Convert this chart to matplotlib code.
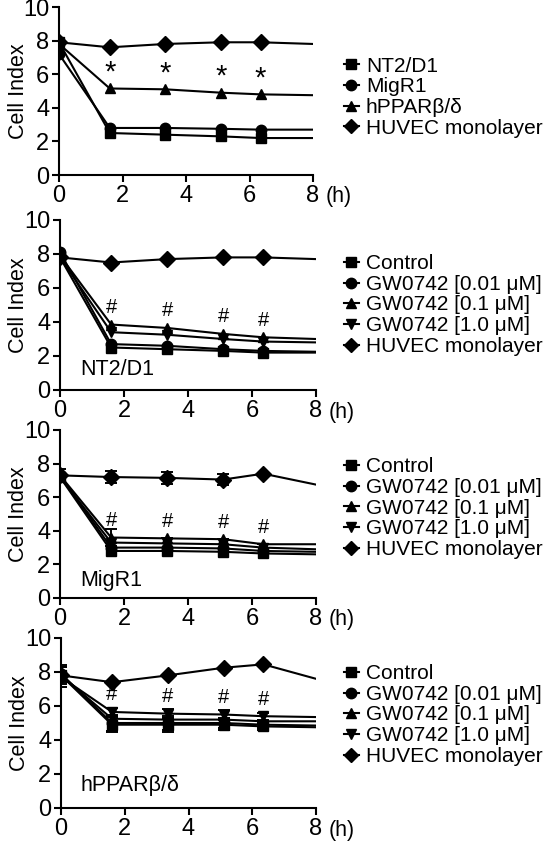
import numpy as np
import matplotlib
matplotlib.use("Agg")
import matplotlib.pyplot as plt
from matplotlib.lines import Line2D

plt.rcParams['font.family'] = ['Liberation Sans', 'DejaVu Sans']

# time points (h); last point is the line end without marker
t = [0, 1.6, 3.35, 5.1, 6.35, 8]

# panel 1
p1_nt2 = [7.9, 2.5, 2.4, 2.3, 2.2, 2.2]
p1_migr1 = [7.2, 2.8, 2.8, 2.75, 2.7, 2.7]
p1_hppar = [7.8, 5.15, 5.1, 4.9, 4.8, 4.75]
p1_huvec = [7.9, 7.6, 7.8, 7.9, 7.9, 7.8]
p1_labels = ["NT2/D1", "MigR1", "hPPAR\u03b2/\u03b4", "HUVEC monolayer"]

# panel 2 (NT2/D1)
p2_ctrl = [7.8, 2.5, 2.4, 2.3, 2.2, 2.2]
p2_gw001 = [8.1, 2.7, 2.6, 2.4, 2.3, 2.25]
p2_gw01 = [7.9, 3.85, 3.65, 3.3, 3.1, 3.0]
p2_gw1 = [7.8, 3.4, 3.25, 3.0, 2.85, 2.8]
p2_huvec = [7.8, 7.5, 7.7, 7.8, 7.8, 7.7]

# panel 3 (MigR1)
p3_ctrl = [7.2, 2.8, 2.8, 2.75, 2.65, 2.6]
p3_gw001 = [7.3, 3.0, 3.0, 2.95, 2.8, 2.75]
p3_gw01 = [7.3, 3.6, 3.55, 3.5, 3.2, 3.2]
p3_gw1 = [7.2, 3.3, 3.25, 3.2, 3.0, 2.9]
p3_huvec = [7.3, 7.2, 7.15, 7.05, 7.4, 6.75]
p3_huvec_err = [0.35, 0.35, 0.35, 0.35, 0, 0]

# panel 4 (hPPARb/d)
p4_ctrl = [7.8, 4.9, 4.9, 4.9, 4.8, 4.75]
p4_gw001 = [7.9, 5.0, 5.0, 5.0, 4.9, 4.85]
p4_gw01 = [7.8, 5.25, 5.2, 5.2, 5.1, 5.1]
p4_gw1 = [7.7, 5.65, 5.55, 5.5, 5.4, 5.35]
p4_huvec = [7.8, 7.4, 7.8, 8.25, 8.45, 7.6]
p4_err = [0.5, 0.45, 0.4, 0.3, 0.2, 0]

gw_labels = ["Control", "GW0742 [0.01 \u03bcM]", "GW0742 [0.1 \u03bcM]",
             "GW0742 [1.0 \u03bcM]", "HUVEC monolayer"]

mark_t = [1.6, 3.35, 5.1, 6.35]

W, H = 549, 841
fig = plt.figure(figsize=(W / 100, H / 100), dpi=100)

# axes boxes in pixels: left, right, top, bottom
boxes = [(59, 313, 7, 175), (60, 316, 220, 390), (60, 316, 430, 598), (61, 316, 638, 808)]
axes = []
for l, r, tp, b in boxes:
    ax = fig.add_axes([l / W, 1 - b / H, (r - l) / W, (b - tp) / H])
    axes.append(ax)

ms = 7.5
lw = 1.5
FS = 15.5
TFS = 17
LFS = 15

def series(ax, y, marker, err=None, size=ms):
    n = len(y) - 1
    ax.plot(t, y, color='black', lw=lw, zorder=2)
    ax.plot(t[:n], y[:n], ls='none', marker=marker, color='black', ms=size, zorder=3)
    if err is not None:
        ax.errorbar(t[:n], y[:n], yerr=err[:n], fmt='none', ecolor='black',
                    elinewidth=1.4, capsize=4, capthick=1.4, zorder=3)

def style(ax):
    ax.set_xlim(0, 8)
    ax.set_ylim(0, 10)
    ax.set_xticks([0, 2, 4, 6, 8])
    ax.set_yticks([0, 2, 4, 6, 8, 10])
    for s in ['top', 'right']:
        ax.spines[s].set_visible(False)
    for s in ['left', 'bottom']:
        ax.spines[s].set_linewidth(1.5)
        ax.spines[s].set_clip_on(False)
    ax.tick_params(direction='out', length=5, width=1.5, labelsize=TFS, pad=2)
    ax.set_ylabel("Cell Index", fontsize=FS)
    ax.yaxis.set_label_coords(-0.12, 0.5)
    ax.text(8.4, -1.3, "(h)", fontsize=FS, ha='left', va='center', clip_on=False)

def legend(ax, labels, markers, cy):
    handles = [Line2D([], [], color='black', lw=lw, marker=m, ms=ms) for m in markers]
    fig.legend(handles, labels, loc='center left', bbox_to_anchor=(344 / W, 1 - cy / H),
               frameon=False, fontsize=LFS, handlelength=0.7, handletextpad=0.35,
               labelspacing=0.08, borderpad=0, borderaxespad=0)

# panel 1
ax = axes[0]
series(ax, p1_nt2, 's')
series(ax, p1_migr1, 'o')
series(ax, p1_hppar, '^')
series(ax, p1_huvec, 'D', size=8)
for x, y in zip(mark_t, p1_hppar[1:5]):
    ax.text(x, y + 0.1, "*", fontsize=21, ha='center', va='bottom')
style(ax)
legend(ax, p1_labels, ['s', 'o', '^', 'D'], 97)

gw_markers = ['s', 'o', '^', 'v', 'D']
panels = [
    (p2_ctrl, p2_gw001, p2_gw01, p2_gw1, p2_huvec, "NT2/D1", 1.2, 305),
    (p3_ctrl, p3_gw001, p3_gw01, p3_gw1, p3_huvec, "MigR1", 1.07, 508),
    (p4_ctrl, p4_gw001, p4_gw01, p4_gw1, p4_huvec, "hPPAR\u03b2/\u03b4", 1.35, 715),
]
for i, (c, g1, g2, g3, hu, name, ny, cy) in enumerate(panels):
    ax = axes[i + 1]
    if i == 1:
        series(ax, c, 's')
        series(ax, g1, 'o')
        series(ax, g3, 'v')
        series(ax, g2, '^', err=[0, 0.5, 0, 0, 0, 0])
        series(ax, hu, 'D', err=p3_huvec_err, size=8)
    elif i == 2:
        series(ax, c, 's', err=p4_err)
        series(ax, g1, 'o', err=p4_err)
        series(ax, g2, '^')
        series(ax, g3, 'v', err=[0.6, 0.25, 0.25, 0.25, 0.2, 0])
        series(ax, hu, 'D', size=8)
    else:
        series(ax, c, 's')
        series(ax, g1, 'o')
        series(ax, g3, 'v')
        series(ax, g2, '^')
        series(ax, hu, 'D', size=8)
    top = [max(a, b) for a, b in zip(g2[1:5], g3[1:5])]
    for x, y in zip(mark_t, top):
        ax.text(x, y + 0.45, "#", fontsize=14.5, ha='center', va='bottom')
    ax.text(0.62, ny, name, fontsize=FS, ha='left', va='center')
    style(ax)
    legend(ax, gw_labels, gw_markers, cy)

fig.savefig("out.png", dpi=100)
